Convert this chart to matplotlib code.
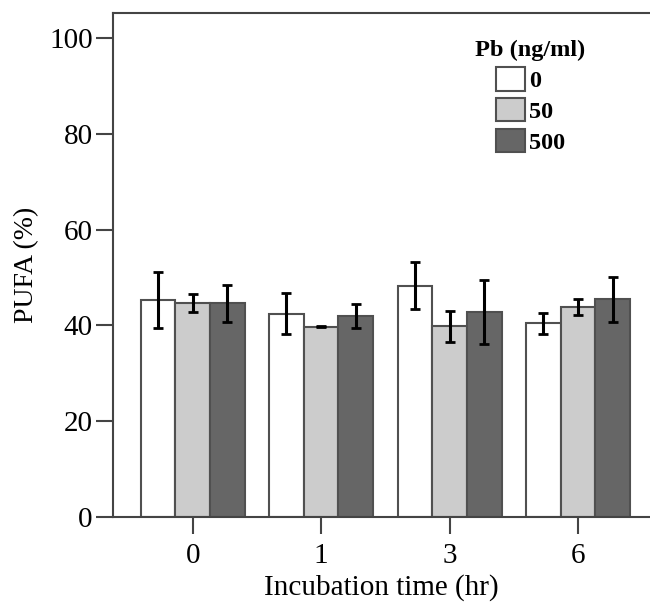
import numpy as np
import matplotlib
matplotlib.use("Agg")
import matplotlib.pyplot as plt

plt.rcParams['font.family'] = ['Liberation Serif', 'DejaVu Serif']

# data
times = ['0', '1', '3', '6']
doses = ['0', '50', '500']
means = {
    '0':   [45.3, 42.4, 48.3, 40.4],
    '50':  [44.6, 39.7, 39.8, 43.8],
    '500': [44.6, 42.0, 42.8, 45.4],
}
errs = {
    '0':   [5.8, 4.3, 4.9, 2.2],
    '50':  [1.9, 0.1, 3.2, 1.6],
    '500': [3.8, 2.5, 6.7, 4.6],
}
colors = {'0': '#ffffff', '50': '#cccccc', '500': '#666666'}

fig = plt.figure(figsize=(6.5, 6.03), dpi=100)
ax = fig.add_axes([113 / 650, 86 / 603, 1 - 113 / 650, (517 - 13) / 603])

x = np.arange(len(times))
w = 0.27
for i, d in enumerate(doses):
    ax.bar(x + (i - 1) * w, means[d], w, color=colors[d], edgecolor='#505050',
           linewidth=1.5, label=d, zorder=2)
    ax.errorbar(x + (i - 1) * w, means[d], yerr=errs[d], fmt='none', ecolor='black',
                elinewidth=2.2, capsize=3.3, capthick=2, zorder=3)

ax.set_xlim(-0.62, 3.56)
ax.set_ylim(0, 105.2)
ax.set_yticks([0, 20, 40, 60, 80, 100])
ax.set_xticks(x)
ax.set_xticklabels(times)

for s in ['left', 'bottom', 'top']:
    ax.spines[s].set_color('#444444')
    ax.spines[s].set_linewidth(1.5)
ax.spines['right'].set_visible(False)

ax.tick_params(axis='both', length=12.5, width=1.5, color='#444444', labelsize=21)
ax.tick_params(axis='y', pad=2)
ax.tick_params(axis='x', pad=6)

ax.set_xlabel('Incubation time (hr)', fontsize=21, labelpad=4)
ax.set_ylabel('PUFA (%)', fontsize=20, labelpad=7)

leg = ax.legend(title='Pb (ng/ml)', loc='upper left', bbox_to_anchor=(0.675, 0.946),
                frameon=False, prop={'weight': 'bold', 'size': 17.5},
                handlelength=1.2, handleheight=1.1, handletextpad=0.15,
                labelspacing=0.24, borderpad=0, borderaxespad=0)
leg.get_title().set_fontweight('bold')
leg.get_title().set_fontsize(17.5)

fig.savefig('out.png', dpi=100)
